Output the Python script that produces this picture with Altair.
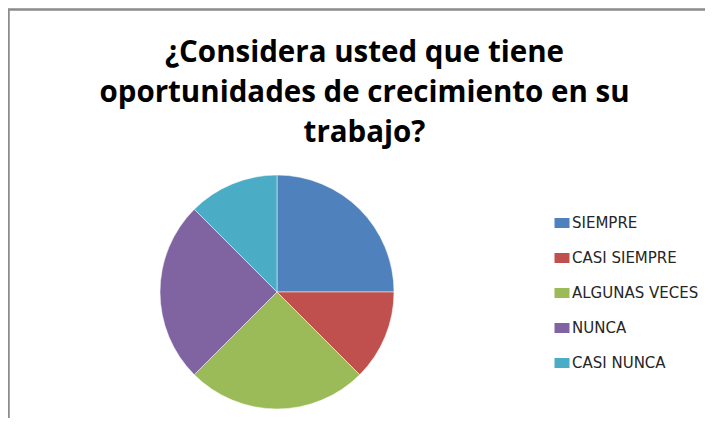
import altair as alt
import pandas as pd

categories = ["SIEMPRE", "CASI SIEMPRE", "ALGUNAS VECES", "NUNCA", "CASI NUNCA"]
values = [2, 1, 2, 2, 1]
colors = ["#4F81BD", "#C0504D", "#9BBB59", "#8064A2", "#4BACC6"]
title_lines = ["¿Considera usted que tiene", "oportunidades de crecimiento en su", "trabajo?"]

df = pd.DataFrame({"cat": categories, "val": values, "order": list(range(len(categories)))})

W, H = 697, 258
TOP = 152

pie = alt.Chart(df).mark_arc(outerRadius=117, stroke="white", strokeWidth=0.5).encode(
    theta=alt.Theta("val:Q", stack=True),
    order=alt.Order("order:Q"),
    color=alt.Color(
        "cat:N",
        scale=alt.Scale(domain=categories, range=colors),
        legend=alt.Legend(
            title=None,
            orient="none",
            legendX=544,
            legendY=53,
            symbolType="M-0.75,-0.5H0.75V0.5H-0.75Z",
            symbolSize=400,
            symbolStrokeWidth=0,
            rowPadding=17,
            labelFont="DejaVu Sans",
            labelFontSize=15,
            labelColor="#262626",
            labelOffset=0,
        ),
    ),
    x=alt.value(269),
    y=alt.value(132),
)

frame_top = alt.Chart(df).mark_rule(color="#8c8c8c", strokeWidth=1.5).encode(
    x=alt.value(0), x2=alt.value(W + 20), y=alt.value(-TOP + 1.5)
)
frame_left = alt.Chart(df).mark_rule(color="#8c8c8c", strokeWidth=1.5).encode(
    x=alt.value(0.5), y=alt.value(-TOP + 1), y2=alt.value(H + 20)
)

chart = alt.layer(frame_top, frame_left, pie).properties(
    width=W,
    height=H,
    autosize=alt.AutoSizeParams(type="none"),
    padding={"top": TOP, "left": 0, "right": 0, "bottom": 0},
    title=alt.TitleParams(
        text=title_lines,
        font="Open Sans",
        fontSize=29.5,
        fontWeight="bold",
        color="#000000",
        anchor="middle",
        dx=8,
        dy=152,
        lineHeight=40,
        offset=12,
    ),
).configure_view(stroke=None)

chart.save("out.html", embed_options={"renderer": "svg", "actions": False})
